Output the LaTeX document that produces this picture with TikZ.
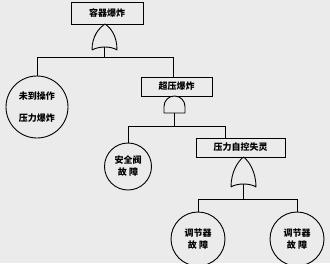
\documentclass[tikz,border=0pt]{standalone}
\usepackage{fontspec}
\newfontfamily\cjk{Noto Sans CJK SC}
\definecolor{bg}{RGB}{235,235,235}
\begin{document}
\begin{tikzpicture}[x=1pt,y=-1pt,line width=0.9pt,
  evbox/.style={draw,fill=bg,inner sep=0pt,font=\cjk\bfseries\fontsize{9}{11}\selectfont},
  evcirc/.style={draw,circle,fill=bg,inner sep=0pt,align=center},
  gate/.style={draw,fill=bg,line join=round},
  conn/.style={draw}]
\fill[bg] (0,0) rectangle (330,263);
\useasboundingbox (0,0) rectangle (330,263);
% boxes
\node[evbox,minimum width=72pt,minimum height=22pt] (top) at (107,13) {容器爆炸};
\node[evbox,minimum width=71pt,minimum height=19pt] (over) at (176.5,86.5) {超压爆炸};
\node[evbox,minimum width=89pt,minimum height=19pt] (auto) at (240.5,147.5) {压力自控失灵};
% circles
\node[evcirc,minimum size=62pt,font=\cjk\bfseries\fontsize{9}{22}\selectfont] (c1) at (37,107) {未到操作\\压力爆炸};
\node[evcirc,minimum size=47pt,font=\cjk\bfseries\fontsize{9}{12}\selectfont] (c2) at (128,166.5) {安全阀\\故\ 障};
\node[evcirc,minimum size=54pt,font=\cjk\bfseries\fontsize{9}{12}\selectfont] (c4) at (198,239) {调节器\\故\ 障};
\node[evcirc,minimum size=54pt,font=\cjk\bfseries\fontsize{9}{12}\selectfont] (c5) at (297,239) {调节器\\故\ 障};
% gate 1 (OR)
\draw[gate] (92,50) .. controls (92,36) and (99,28) .. (105,24) .. controls (111,28) and (117,36) .. (117,50) .. controls (111,46) and (99,46) .. (92,50);
\coordinate (g1) at (104.5,47);
\coordinate (h1) at (104.5,57);
\coordinate (h1l) at (37,57);
\coordinate (h1r) at (173,57);
\draw[conn] (g1) -- (h1);
\draw[conn] (h1l) -- (h1r);
\draw[conn] (h1l) -- (c1.north);
\draw[conn] (h1r) -- (h1r |- over.north);
% gate 2 (AND)
\draw[gate] (164,113) -- (164,106.5) .. controls (164,100.7) and (168.7,96) .. (174.5,96) .. controls (180.3,96) and (185,100.7) .. (185,106.5) -- (185,113) -- cycle;
\coordinate (g2) at (174.5,113);
\coordinate (h2) at (174.5,126);
\coordinate (h2l) at (128,126);
\coordinate (h2r) at (225,126);
\draw[conn] (g2) -- (h2);
\draw[conn] (h2l) -- (h2r);
\draw[conn] (h2l) -- (c2.north);
\draw[conn] (h2r) -- (h2r |- auto.north);
% gate 3 (OR)
\draw[gate] (231,187) .. controls (231,172) and (238,161) .. (243.5,157) .. controls (249,161) and (256,172) .. (256,187) .. controls (250,183) and (237,183) .. (231,187);
\coordinate (g3) at (243.5,184);
\coordinate (h3) at (243.5,199);
\coordinate (h3l) at (198,199);
\coordinate (h3r) at (297,199);
\draw[conn] (g3) -- (h3);
\draw[conn] (h3l) -- (h3r);
\draw[conn] (h3l) -- (c4.north);
\draw[conn] (h3r) -- (c5.north);
\end{tikzpicture}
\end{document}
